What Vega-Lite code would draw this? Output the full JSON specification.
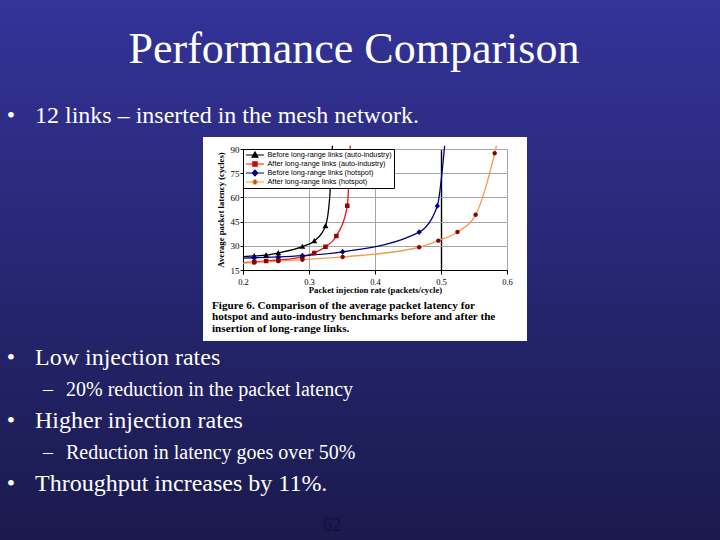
{
  "$schema": "https://vega.github.io/schema/vega-lite/v6.json",
  "background": "#2a2a80",
  "padding": 0,
  "autosize": {"type": "pad"},
  "spacing": 0,
  "config": {
    "view": {"stroke": null},
    "concat": {"spacing": 0},
    "text": {"font": "Liberation Serif", "color": "white"}
  },
  "datasets": {
    "slideTop": [
      {"line": 1, "level": 0, "text": "Performance Comparison"},
      {"line": 2, "level": 1, "text": "12 links – inserted in the mesh network."}
    ],
    "slideBottom": [
      {"line": 1, "level": 1, "text": "Low injection rates"},
      {"line": 2, "level": 2, "text": "20% reduction in the packet latency"},
      {"line": 3, "level": 1, "text": "Higher injection rates"},
      {"line": 4, "level": 2, "text": "Reduction in latency goes over 50%"},
      {"line": 5, "level": 1, "text": "Throughput increases by 11%."}
    ],
    "latency": [
      {"series": "Before long-range links (auto-industry)", "rate": 0.2, "latency": 23.3, "kind": "curve"},
      {"series": "Before long-range links (auto-industry)", "rate": 0.217, "latency": 23.7, "kind": "measured"},
      {"series": "Before long-range links (auto-industry)", "rate": 0.235, "latency": 24.2, "kind": "measured"},
      {"series": "Before long-range links (auto-industry)", "rate": 0.2535, "latency": 25.6, "kind": "measured"},
      {"series": "Before long-range links (auto-industry)", "rate": 0.29, "latency": 29.5, "kind": "measured"},
      {"series": "Before long-range links (auto-industry)", "rate": 0.308, "latency": 33.0, "kind": "measured"},
      {"series": "Before long-range links (auto-industry)", "rate": 0.325, "latency": 42.3, "kind": "measured"},
      {"series": "Before long-range links (auto-industry)", "rate": 0.3316, "latency": 61.5, "kind": "curve"},
      {"series": "Before long-range links (auto-industry)", "rate": 0.3355, "latency": 92, "kind": "curve"},
      {"series": "After long-range links (auto-industry)", "rate": 0.2, "latency": 19.6, "kind": "curve"},
      {"series": "After long-range links (auto-industry)", "rate": 0.217, "latency": 20.0, "kind": "measured"},
      {"series": "After long-range links (auto-industry)", "rate": 0.235, "latency": 20.6, "kind": "measured"},
      {"series": "After long-range links (auto-industry)", "rate": 0.2535, "latency": 21.2, "kind": "measured"},
      {"series": "After long-range links (auto-industry)", "rate": 0.29, "latency": 23.2, "kind": "measured"},
      {"series": "After long-range links (auto-industry)", "rate": 0.308, "latency": 25.6, "kind": "measured"},
      {"series": "After long-range links (auto-industry)", "rate": 0.325, "latency": 29.4, "kind": "measured"},
      {"series": "After long-range links (auto-industry)", "rate": 0.3415, "latency": 36.1, "kind": "measured"},
      {"series": "After long-range links (auto-industry)", "rate": 0.358, "latency": 54.8, "kind": "measured"},
      {"series": "After long-range links (auto-industry)", "rate": 0.3625, "latency": 92, "kind": "curve"},
      {"series": "Before long-range links (hotspot)", "rate": 0.2, "latency": 22.3, "kind": "curve"},
      {"series": "Before long-range links (hotspot)", "rate": 0.217, "latency": 22.6, "kind": "measured"},
      {"series": "Before long-range links (hotspot)", "rate": 0.2535, "latency": 23.1, "kind": "measured"},
      {"series": "Before long-range links (hotspot)", "rate": 0.29, "latency": 23.9, "kind": "measured"},
      {"series": "Before long-range links (hotspot)", "rate": 0.351, "latency": 26.3, "kind": "measured"},
      {"series": "Before long-range links (hotspot)", "rate": 0.467, "latency": 38.5, "kind": "measured"},
      {"series": "Before long-range links (hotspot)", "rate": 0.4944, "latency": 54.7, "kind": "measured"},
      {"series": "Before long-range links (hotspot)", "rate": 0.5055, "latency": 92, "kind": "curve"},
      {"series": "After long-range links (hotspot)", "rate": 0.2, "latency": 19.3, "kind": "curve"},
      {"series": "After long-range links (hotspot)", "rate": 0.217, "latency": 19.6, "kind": "measured"},
      {"series": "After long-range links (hotspot)", "rate": 0.2535, "latency": 20.5, "kind": "measured"},
      {"series": "After long-range links (hotspot)", "rate": 0.29, "latency": 21.4, "kind": "measured"},
      {"series": "After long-range links (hotspot)", "rate": 0.351, "latency": 23.1, "kind": "measured"},
      {"series": "After long-range links (hotspot)", "rate": 0.467, "latency": 29.1, "kind": "measured"},
      {"series": "After long-range links (hotspot)", "rate": 0.496, "latency": 33.2, "kind": "measured"},
      {"series": "After long-range links (hotspot)", "rate": 0.525, "latency": 38.6, "kind": "measured"},
      {"series": "After long-range links (hotspot)", "rate": 0.5525, "latency": 49.3, "kind": "measured"},
      {"series": "After long-range links (hotspot)", "rate": 0.5813, "latency": 87.3, "kind": "measured"},
      {"series": "After long-range links (hotspot)", "rate": 0.584, "latency": 92, "kind": "curve"}
    ]
  },
  "vconcat": [
    {
      "width": 720,
      "height": 137,
      "data": {"name": "slideTop"},
      "layer": [
        {
          "data": {"values": [{"bg": 1}]},
          "mark": {"type": "rect", "fill": {"gradient": "linear", "x1": 0, "y1": 0, "x2": 0, "y2": 1, "stops": [{"offset": 0, "color": "#333399"}, {"offset": 1, "color": "#2d2d86"}]}},
          "encoding": {}
        },
        {
          "transform": [{"filter": "datum.level === 0"}],
          "mark": {"type": "text", "align": "center", "baseline": "alphabetic", "fontSize": 44, "dx": -6},
          "encoding": {
            "y": {"field": "line", "type": "ordinal", "scale": {"type": "point", "domain": [1, 2], "range": [63, 123], "padding": 0}, "axis": null},
            "text": {"field": "text"}
          }
        },
        {
          "transform": [{"filter": "datum.level === 1"}],
          "mark": {"type": "text", "align": "left", "baseline": "alphabetic", "fontSize": 24},
          "encoding": {
            "x": {"field": "level", "type": "ordinal", "scale": {"type": "point", "domain": [1, 2], "range": [35, 66], "padding": 0}, "axis": null},
            "y": {"field": "line", "type": "ordinal", "axis": null},
            "text": {"field": "text"}
          }
        },
        {
          "transform": [{"filter": "datum.level === 1"}],
          "mark": {"type": "text", "align": "center", "baseline": "alphabetic", "fontSize": 24},
          "encoding": {
            "x": {"field": "level", "type": "ordinal", "scale": {"type": "point", "domain": [1, 2], "range": [11, 48], "padding": 0}, "axis": null},
            "y": {"field": "line", "type": "ordinal", "axis": null},
            "text": {"value": "•"}
          }
        }
      ],
      "resolve": {"scale": {"x": "independent"}}
    },
    {
      "spacing": 0,
      "hconcat": [
        {
          "width": 203,
          "height": 204,
          "data": {"values": [{"bg": 1}]},
          "mark": {"type": "rect", "fill": {"gradient": "linear", "x1": 0, "y1": 0, "x2": 0, "y2": 1, "stops": [{"offset": 0, "color": "#2d2d86"}, {"offset": 1, "color": "#232369"}]}},
          "encoding": {}
        },
        {
          "width": 324,
          "height": 204,
          "view": {"fill": "white", "stroke": null},
          "data": {"name": "latency"},
          "title": {
            "text": ["Figure 6. Comparison of the average packet latency for", "hotspot and auto-industry benchmarks before and after the", "insertion of long-range links."],
            "orient": "bottom", "anchor": "start", "frame": "group", "align": "left",
            "dx": 9, "offset": -32, "baseline": "alphabetic",
            "font": "Liberation Serif", "fontSize": 11.2, "fontWeight": "bold", "lineHeight": 11.3, "color": "black"
          },
          "encoding": {
            "y": {
              "field": "latency", "type": "quantitative",
              "scale": {"domain": [15, 90], "range": [133, 12], "nice": false, "zero": false},
              "axis": {
                "orient": "left", "offset": -40, "values": [15, 30, 45, 60, 75, 90],
                "labelFont": "Liberation Serif", "labelFontSize": 9, "labelColor": "black", "labelPadding": 1,
                "labelOverlap": false,
                "tickColor": "black", "tickSize": 3, "domainColor": "black",
                "title": "Average packet latency (cycles)", "titleFont": "Liberation Serif", "titleFontSize": 8.7,
                "titleFontWeight": "bold", "titleColor": "black", "titlePadding": 5,
                "grid": true, "gridOpacity": 1, "gridColor": "#a6a6a6"
              }
            }
          },
          "layer": [
            {
              "mark": {"type": "line", "interpolate": "monotone", "strokeWidth": 1.3},
              "encoding": {
                "x": {
                  "field": "rate", "type": "quantitative",
                  "scale": {"domain": [0.2, 0.6], "range": [40, 304], "nice": false, "zero": false},
                  "axis": {
                    "orient": "bottom", "offset": -71, "values": [0.2, 0.3, 0.4, 0.5, 0.6], "format": ".1f",
                    "labelFont": "Liberation Serif", "labelFontSize": 8.5, "labelColor": "black", "labelPadding": 3,
                    "labelFlush": false, "labelOverlap": false,
                    "tickColor": "black", "tickSize": 4, "domainColor": "black",
                    "title": "Packet injection rate (packets/cycle)", "titleFont": "Liberation Serif", "titleFontSize": 8.7,
                    "titleFontWeight": "bold", "titleColor": "black", "titlePadding": 0,
                    "grid": false
                  }
                },
                "color": {
                  "field": "series", "type": "nominal",
                  "scale": {
                    "domain": ["Before long-range links (auto-industry)", "After long-range links (auto-industry)", "Before long-range links (hotspot)", "After long-range links (hotspot)"],
                    "range": ["#000000", "#ee1111", "#000080", "#f39c50"]
                  },
                  "legend": {
                    "title": null, "orient": "none", "legendX": 243, "legendY": 149,
                    "fillColor": "white", "strokeColor": "black", "padding": 1.5,
                    "labelFont": "Liberation Sans", "labelFontSize": 7.3, "labelColor": "black",
                    "symbolSize": 81, "symbolOffset": 5, "labelOffset": 7, "rowPadding": 0,
                    "clipHeight": 9,
                    "symbolStrokeWidth": 1.2
                  }
                }
              }
            },
            {
              "transform": [{"filter": "datum.kind === 'measured'"}],
              "mark": {"type": "point", "filled": true, "size": 80, "opacity": 1, "strokeWidth": 0},
              "encoding": {
                "x": {
                  "field": "rate", "type": "quantitative",
                  "scale": {"domain": [0.2, 0.6], "range": [40, 304], "nice": false, "zero": false},
                  "axis": {
                    "orient": "top", "offset": 0, "values": [0.3, 0.4, 0.5, 0.6],
                    "labels": false, "ticks": false, "domain": false, "title": null,
                    "grid": true, "gridOpacity": 1,
                    "gridColor": {"condition": {"test": "datum.value === 0.5", "value": "#000000"}, "value": "#a6a6a6"},
                    "gridWidth": {"condition": {"test": "datum.value === 0.5", "value": 1.4}, "value": 1}
                  }
                },
                "shape": {
                  "field": "series", "type": "nominal",
                  "scale": {
                    "domain": ["Before long-range links (auto-industry)", "After long-range links (auto-industry)", "Before long-range links (hotspot)", "After long-range links (hotspot)"],
                    "range": ["M-2,0L2,0M0,-0.65L0.65,0.5L-0.65,0.5Z", "M-2,0L2,0M-0.5,-0.5L0.5,-0.5L0.5,0.5L-0.5,0.5Z", "M-2,0L2,0M0,-0.65L0.6,0L0,0.65L-0.6,0Z", "M-2,0L2,0M0.5,0A0.5,0.5,0,1,1,-0.5,0A0.5,0.5,0,1,1,0.5,0Z"]
                  },
                  "legend": null
                },
                "fill": {
                  "field": "series", "type": "nominal",
                  "scale": {
                    "domain": ["Before long-range links (auto-industry)", "After long-range links (auto-industry)", "Before long-range links (hotspot)", "After long-range links (hotspot)"],
                    "range": ["#000000", "#990000", "#000080", "#8b0000"]
                  },
                  "legend": null
                }
              }
            }
          ],
          "resolve": {"axis": {"x": "independent"}}
        },
        {
          "width": 193,
          "height": 204,
          "data": {"values": [{"bg": 1}]},
          "mark": {"type": "rect", "fill": {"gradient": "linear", "x1": 0, "y1": 0, "x2": 0, "y2": 1, "stops": [{"offset": 0, "color": "#2d2d86"}, {"offset": 1, "color": "#232369"}]}},
          "encoding": {}
        }
      ]
    },
    {
      "width": 720,
      "height": 199,
      "data": {"name": "slideBottom"},
      "title": {
        "text": "62", "orient": "bottom", "anchor": "middle", "dx": -28, "offset": -9.3, "baseline": "alphabetic",
        "font": "Liberation Serif", "fontSize": 18, "fontWeight": "normal", "color": "#10103c"
      },
      "layer": [
        {
          "data": {"values": [{"bg": 1}]},
          "mark": {"type": "rect", "fill": {"gradient": "linear", "x1": 0, "y1": 0, "x2": 0, "y2": 1, "stops": [{"offset": 0, "color": "#232369"}, {"offset": 1, "color": "#1a1a4d"}]}},
          "encoding": {}
        },
        {
          "mark": {"type": "text", "align": "left", "baseline": "alphabetic"},
          "encoding": {
            "x": {"field": "level", "type": "ordinal", "scale": {"type": "point", "domain": [1, 2], "range": [35, 66], "padding": 0}, "axis": null},
            "y": {"field": "line", "type": "ordinal", "scale": {"type": "point", "domain": [1, 2, 3, 4, 5], "range": [24, 149.7], "padding": 0}, "axis": null},
            "size": {"condition": {"test": "datum.level === 2", "value": 20}, "value": 24},
            "text": {"field": "text"}
          }
        },
        {
          "mark": {"type": "text", "align": "center", "baseline": "alphabetic"},
          "encoding": {
            "x": {"field": "level", "type": "ordinal", "scale": {"type": "point", "domain": [1, 2], "range": [11, 48], "padding": 0}, "axis": null},
            "y": {"field": "line", "type": "ordinal", "axis": null},
            "size": {"condition": {"test": "datum.level === 2", "value": 20}, "value": 24},
            "text": {"condition": {"test": "datum.level === 1", "value": "•"}, "value": "–"}
          }
        }
      ],
      "resolve": {"scale": {"x": "independent"}}
    }
  ]
}
